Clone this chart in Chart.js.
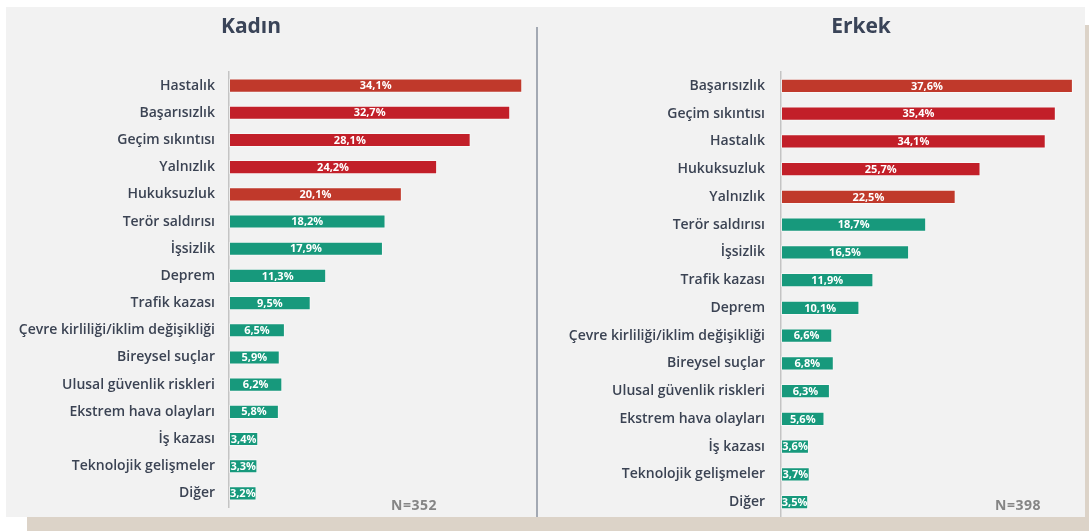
<!DOCTYPE html>
<html>
<head>
<meta charset="utf-8">
<script src="https://cdn.jsdelivr.net/npm/chart.js@4/dist/chart.umd.min.js"></script>
<style>
  html, body { margin: 0; padding: 0; background: #fff; }
  #page { position: relative; width: 1089px; height: 531px; overflow: hidden; background: #fff; font-family: "Open Sans", Lato, sans-serif; }
  .panel { position: absolute; left: 6px; top: 7px; width: 1079px; height: 510px; background: #f2f2f2; }
  .beige-b { position: absolute; left: 27px; top: 517px; width: 1062px; height: 14px; background: #dcd3c8; }
  .beige-r { position: absolute; left: 1085px; top: 25px; width: 4px; height: 492px; background: #dcd3c8; }
  .divider { position: absolute; left: 536px; top: 27px; width: 2px; height: 490px; background: #a3a9b3; }
  .title { position: absolute; top: 11px; font-weight: 700; font-size: 21px; color: #3a4458; transform: translateX(-50%); }
  .nlab { position: absolute; top: 495px; font-weight: 700; font-size: 14px; color: #858585; letter-spacing: 0.5px; transform: translateX(-50%); }
  .box { position: absolute; top: 0; height: 531px; }
</style>
</head>
<body>
<div id="page">
  <div class="panel"></div>
  <div class="beige-b"></div>
  <div class="beige-r"></div>
  <div class="divider"></div>
  <div class="box" style="left:0;width:537px"><canvas id="chart-kadin"></canvas></div>
  <div class="box" style="left:537px;width:552px"><canvas id="chart-erkek"></canvas></div>
  <div class="title" style="left:251px">Kadın</div>
  <div class="title" style="left:861px">Erkek</div>
  <div class="nlab" style="left:414px">N=352</div>
  <div class="nlab" style="left:1018px">N=398</div>
</div>
<script>
(function () {
  "use strict";

  var KADIN_LABELS = ["Hastalık", "Başarısızlık", "Geçim sıkıntısı", "Yalnızlık", "Hukuksuzluk",
    "Terör saldırısı", "İşsizlik", "Deprem", "Trafik kazası", "Çevre kirliliği/iklim değişikliği",
    "Bireysel suçlar", "Ulusal güvenlik riskleri", "Ekstrem hava olayları", "İş kazası",
    "Teknolojik gelişmeler", "Diğer"];
  var KADIN_VALUES = [34.1, 32.7, 28.1, 24.2, 20.1, 18.2, 17.9, 11.3, 9.5, 6.5, 5.9, 6.2, 5.8, 3.4, 3.3, 3.2];

  var ERKEK_LABELS = ["Başarısızlık", "Geçim sıkıntısı", "Hastalık", "Hukuksuzluk", "Yalnızlık",
    "Terör saldırısı", "İşsizlik", "Trafik kazası", "Deprem", "Çevre kirliliği/iklim değişikliği",
    "Bireysel suçlar", "Ulusal güvenlik riskleri", "Ekstrem hava olayları", "İş kazası",
    "Teknolojik gelişmeler", "Diğer"];
  var ERKEK_VALUES = [37.6, 35.4, 34.1, 25.7, 22.5, 18.7, 16.5, 11.9, 10.1, 6.6, 6.8, 6.3, 5.6, 3.6, 3.7, 3.5];

  var ORANGE = "#c0392b";
  var CRIMSON = "#c21f29";
  var TEAL = "#17997c";
  var INK = "#3b4353";
  var FONT = "'Open Sans', Lato, sans-serif";

  function colors(first5) {
    var out = first5.slice();
    while (out.length < 16) out.push(TEAL);
    return out;
  }

  // yüzde etiketleri çubuğun ortasına
  var barLabels = {
    id: "barLabels",
    afterDatasetsDraw: function (chart) {
      var ctx = chart.ctx;
      var meta = chart.getDatasetMeta(0);
      var data = chart.data.datasets[0].data;
      ctx.save();
      ctx.font = "bold 11px " + FONT;
      ctx.fillStyle = "#ffffff";
      ctx.textAlign = "center";
      ctx.textBaseline = "middle";
      meta.data.forEach(function (bar, i) {
        var txt = data[i].toFixed(1).replace(".", ",") + "%";
        ctx.fillText(txt, (bar.x + bar.base) / 2, bar.y + 0.5);
      });
      ctx.restore();
    }
  };

  Chart.defaults.font.family = FONT;
  Chart.defaults.animation = false;

  function makeChart(id, labels, values, barColors, opt) {
    return new Chart(document.getElementById(id), {
      type: "bar",
      data: {
        labels: labels,
        datasets: [{
          data: values,
          backgroundColor: barColors,
          borderColor: "rgba(255,255,255,0.45)",
          borderWidth: 1,
          borderSkipped: false,
          categoryPercentage: 1,
          barPercentage: opt.barPct
        }]
      },
      options: {
        indexAxis: "y",
        responsive: true,
        maintainAspectRatio: false,
        layout: { padding: { left: 0, right: opt.padRight, top: opt.padTop, bottom: opt.padBottom } },
        plugins: { legend: { display: false }, tooltip: { enabled: false } },
        scales: {
          x: { display: false, min: 0, max: opt.max },
          y: {
            grid: { display: false, drawTicks: false },
            border: { display: true, color: "#c4c4c4", width: 1.5 },
            ticks: { color: INK, padding: opt.tickPad, font: { size: 14, weight: "600" } },
            afterFit: function (axis) {
              axis.width = opt.axisW;
              axis.paddingTop = 0;
              axis.paddingBottom = 0;
            }
          }
        }
      },
      plugins: [barLabels]
    });
  }

  makeChart("chart-kadin", KADIN_LABELS, KADIN_VALUES,
    colors([ORANGE, CRIMSON, CRIMSON, CRIMSON, ORANGE]),
    { max: 35, axisW: 229, tickPad: 14, padRight: 7, padTop: 72, padBottom: 24, barPct: 0.52 });

  makeChart("chart-erkek", ERKEK_LABELS, ERKEK_VALUES,
    colors([ORANGE, CRIMSON, CRIMSON, CRIMSON, ORANGE]),
    { max: 38, axisW: 244, tickPad: 16, padRight: 13, padTop: 72, padBottom: 15, barPct: 0.52 });
})();
</script>
</body>
</html>
